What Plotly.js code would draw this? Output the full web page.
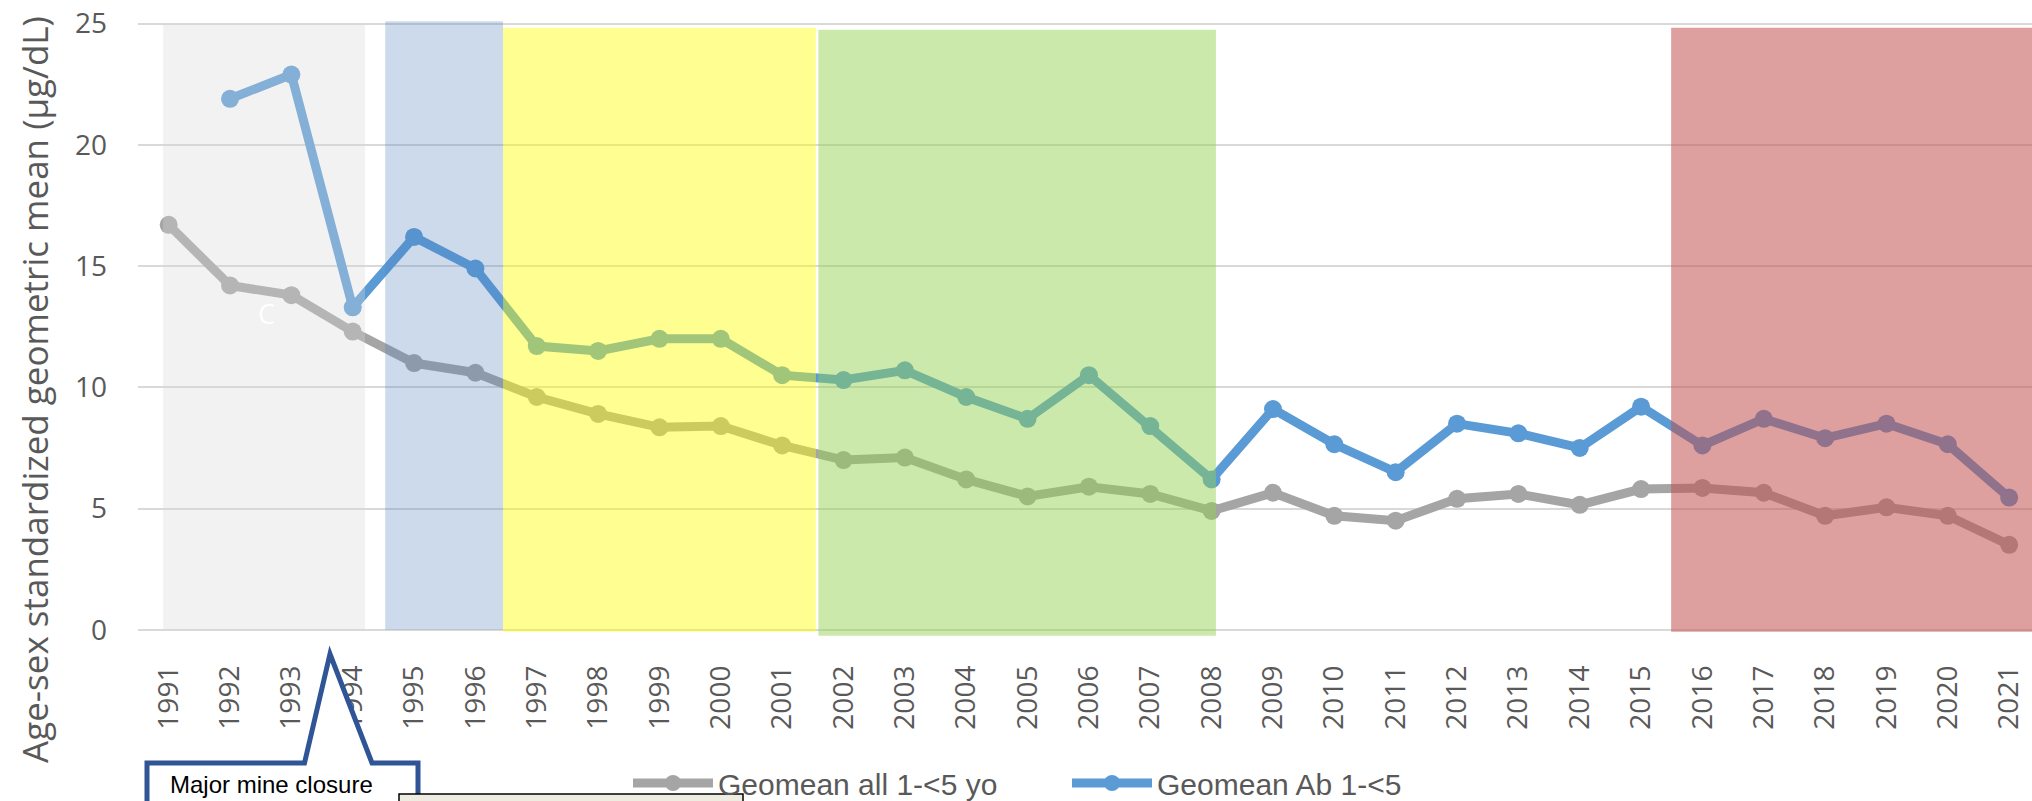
<!DOCTYPE html>
<html>
<head>
<meta charset="utf-8">
<script src="https://cdn.plot.ly/plotly-3.0.1.min.js"></script>
<style>
html,body{margin:0;padding:0;background:#fff;}
#chart{width:2032px;height:801px;}
</style>
</head>
<body>
<div id="chart"></div>
<script>
// ---- data ----
const years = [1991,1992,1993,1994,1995,1996,1997,1998,1999,2000,2001,2002,2003,2004,2005,2006,2007,2008,2009,2010,2011,2012,2013,2014,2015,2016,2017,2018,2019,2020,2021];
const yearLabels = ['1991','1992','1993','1994','1995','1996','1997','1998','1999','2000','2001','2002','2003','2004','2005','2006','2007','2008','2009','2010','2011','2012','2013','2014','2015','2016','2017','2018','2019','2020','2021'];
const geomeanAll = [16.7,14.2,13.8,12.3,11.0,10.6,9.6,8.9,8.35,8.4,7.6,7.0,7.1,6.2,5.5,5.9,5.6,4.9,5.65,4.7,4.5,5.4,5.6,5.15,5.8,5.85,5.65,4.7,5.05,4.7,3.5];
const geomeanAb = [null,21.9,22.9,13.3,16.2,14.9,11.7,11.5,12.0,12.0,10.5,10.3,10.7,9.6,8.7,10.5,8.4,6.2,9.1,7.65,6.5,8.5,8.1,7.5,9.2,7.6,8.7,7.9,8.5,7.65,5.45];
const yTicks = [0,5,10,15,20,25];
// shaded periods (year units)
const periodStart = [1990.91, 1994.53, 1996.45, 2001.59, 2015.49];
const periodEnd   = [1994.20, 1996.45, 2001.55, 2008.07, 2022.00];
const periodTop   = [25.0, 25.1, 24.83, 24.75, 24.83];
const periodBottom= [0.0, 0.0, -0.08, -0.25, -0.08];

// ---- styling ----
const periodFill = ['rgba(215,215,215,0.33)','rgba(79,129,189,0.29)','rgba(255,255,0,0.43)','rgba(146,208,80,0.48)','rgba(192,80,77,0.54)'];
const L = 138, T = 20, W = 1894, H = 617;
const px = x => (x - L) / W;
const py = y => (T + H - y) / H;
const tickFont = {family: 'Open Sans, sans-serif', size: 28, color: '#595959'};
const legFont = {family: 'Liberation Sans, Arial, sans-serif', size: 30, color: '#595959'};

const traces = [
  {x: years, y: geomeanAll, name: 'Geomean all 1-<5 yo', type: 'scatter', mode: 'lines+markers',
   line: {color: '#A5A5A5', width: 9}, marker: {color: '#A5A5A5', size: 18}, legend: 'legend', hoverinfo: 'x+y'},
  {x: years, y: geomeanAb, name: 'Geomean Ab 1-<5', type: 'scatter', mode: 'lines+markers', connectgaps: false,
   line: {color: '#5B9BD5', width: 9}, marker: {color: '#5B9BD5', size: 18}, legend: 'legend2', hoverinfo: 'x+y'}
];

const shapes = periodStart.map((s, i) => ({
  type: 'rect', xref: 'x', yref: 'y', x0: s, x1: periodEnd[i], y0: periodBottom[i], y1: periodTop[i],
  fillcolor: periodFill[i], line: {width: 0}, layer: 'above'
}));

const calloutPath = 'M ' + px(147) + ',' + py(815) +
  ' L ' + px(147) + ',' + py(763) +
  ' L ' + px(304.5) + ',' + py(763) +
  ' L ' + px(330) + ',' + py(654) +
  ' L ' + px(372) + ',' + py(763) +
  ' L ' + px(418) + ',' + py(763) +
  ' L ' + px(418) + ',' + py(815) + ' Z';
shapes.push({type: 'path', xref: 'paper', yref: 'paper', path: calloutPath,
  fillcolor: '#FFFFFF', line: {color: '#2F5597', width: 5}, layer: 'above'});
shapes.push({type: 'rect', xref: 'paper', yref: 'paper', x0: px(399), x1: px(743), y0: py(815), y1: py(794),
  fillcolor: '#EEECE1', line: {color: '#000000', width: 1.5}, layer: 'above'});

const layout = {
  width: 2032, height: 801,
  margin: {l: L, r: 0, t: T, b: 801 - T - H, pad: 0, autoexpand: false},
  paper_bgcolor: '#FFFFFF', plot_bgcolor: '#FFFFFF',
  showlegend: true,
  xaxis: {type: 'linear', range: [1990.5, 1990.5 + W / 61.35], tickmode: 'array', tickvals: years, ticktext: yearLabels,
    tickangle: -90, tickfont: tickFont, showgrid: false, zeroline: false, showline: false, ticks: '', ticklabelstandoff: 22,
    fixedrange: true, automargin: false},
  yaxis: {range: [-0.3, 25.15], tickmode: 'array', tickvals: yTicks, ticktext: yTicks.map(String), tickfont: tickFont,
    showgrid: true, gridcolor: '#D9D9D9', gridwidth: 2, zeroline: false, showline: false, ticks: '', ticklabelstandoff: 30,
    fixedrange: true, automargin: false},
  legend: {x: px(628), y: py(783), xanchor: 'left', yanchor: 'middle', orientation: 'h', font: legFont,
    bgcolor: 'rgba(0,0,0,0)', itemwidth: 80},
  legend2: {x: px(1067), y: py(783), xanchor: 'left', yanchor: 'middle', orientation: 'h', font: legFont,
    bgcolor: 'rgba(0,0,0,0)', itemwidth: 80},
  shapes: shapes,
  annotations: [
    {xref: 'paper', yref: 'paper', x: px(34), y: py(390), xanchor: 'center', yanchor: 'middle', showarrow: false,
     textangle: -90, text: 'Age-sex standardized geometric mean (µg/dL)',
     font: {family: 'Open Sans, sans-serif', size: 35, color: '#595959'}},
    {xref: 'paper', yref: 'paper', x: px(266), y: py(313), xanchor: 'center', yanchor: 'middle', showarrow: false,
     text: 'C', font: {family: 'Open Sans, sans-serif', size: 27, color: '#FFFFFF'}},
    {xref: 'paper', yref: 'paper', x: px(168), y: py(800), xanchor: 'left', yanchor: 'bottom', showarrow: false,
     text: 'Major mine closure', font: {family: 'Liberation Sans, Arial, sans-serif', size: 24, color: '#000000'}}
  ]
};

Plotly.newPlot('chart', traces, layout, {displayModeBar: false, staticPlot: true});
</script>
</body>
</html>
